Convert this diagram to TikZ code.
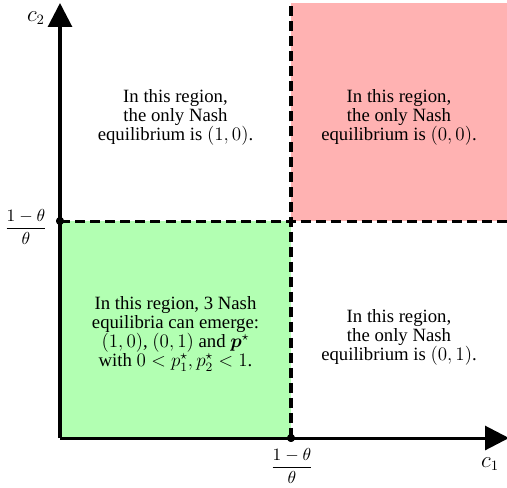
\documentclass[tikz,border=0pt]{standalone}
\usepackage{amsmath}
\usepackage[no-math]{fontspec}
\setmainfont{Liberation Serif}
\usetikzlibrary{arrows.meta}

\tikzset{
  axis/.style={line width=1.9pt, -{Triangle[width=15pt,length=15pt]}},
  border/.style={line width=1.9pt, dash pattern=on 6.3pt off 3.2pt},
  regiontext/.style={align=center, inner sep=0pt, font=\fontsize{11.8}{12}\selectfont},
  tickdot/.style={circle, fill, inner sep=0pt, minimum size=5pt},
  axislabel/.style={font=\fontsize{13.5}{16}\selectfont, inner sep=0pt},
  ticklabel/.style={font=\fontsize{11}{13}\selectfont, inner sep=0pt}
}

\begin{document}
\begin{tikzpicture}[x=0.63pt,y=-0.63pt]
\path[use as bounding box] (0,0) rectangle (507,487);
\coordinate (O) at (60,438);
\coordinate (Xend) at (509,438);
\coordinate (Yend) at (60,3);
\coordinate (Top) at (291,3);
\coordinate (Right) at (507,221);
\fill[green!30] (60,438) rectangle (291,221);
\fill[red!30] (291,221) rectangle (507,3);
\node[tickdot] (xtick) at (291,438) {};
\node[tickdot] (ytick) at (60,221) {};
\draw[border] (xtick.center) -- (Top);
\draw[border] (ytick.center) -- (Right);
\draw[axis] (O) -- (Xend);
\draw[axis] (O) -- (Yend);
\node[tickdot] at (xtick) {};
\node[tickdot] at (ytick) {};
\node[axislabel] (c1) at (490,464) {$c_1$};
\node[axislabel] (c2) at (36,18) {$c_2$};
\node[ticklabel] (xfrac) at (292,466) {$\dfrac{1-\theta}{\theta}$};
\node[ticklabel] (yfrac) at (26,227) {$\dfrac{1-\theta}{\theta}$};
\node[regiontext] (nw) at (175.5,117) {In this region,\\the only Nash\\equilibrium is $(1,0)$.};
\node[regiontext] (ne) at (399,117) {In this region,\\the only Nash\\equilibrium is $(0,0)$.};
\node[regiontext] (sw) at (175.5,334) {In this region, 3 Nash\\equilibria can emerge:\\$(1,0)$, $(0,1)$ and $\boldsymbol{p}^\star$\\with $0<p_1^\star,p_2^\star<1$.};
\node[regiontext] (se) at (399,337) {In this region,\\the only Nash\\equilibrium is $(0,1)$.};
\end{tikzpicture}
\end{document}
